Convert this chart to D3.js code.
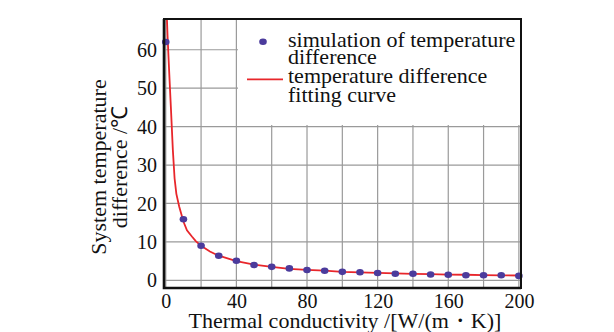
<!DOCTYPE html>
<html>
<head>
<meta charset="utf-8">
<script src="https://cdn.jsdelivr.net/npm/d3@7"></script>
<style>
  html, body { margin: 0; padding: 0; background: #fff; }
  svg { display: block; }
  text { font-family: "Liberation Serif", "Times New Roman", serif; fill: #111; }
</style>
</head>
<body>
<svg id="chart" width="614" height="332"></svg>
<script>
// ---- data ----
const simX = [0, 10, 20, 30, 40, 50, 60, 70, 80, 90, 100, 110, 120, 130, 140, 150, 160, 170, 180, 190, 200];
const simY = [62, 15.9, 9.0, 6.4, 5.1, 4.0, 3.5, 3.1, 2.7, 2.5, 2.2, 2.1, 1.9, 1.7, 1.7, 1.5, 1.45, 1.3, 1.3, 1.3, 1.15];
const fitX = [0.5, 1, 2, 3, 4, 5, 6, 7.6, 10, 12, 14.8, 17, 20, 25, 30, 40, 50, 60, 70, 80, 90, 100, 110, 120, 130, 140, 150, 160, 170, 180, 190, 200];
const fitY = [70, 63.7, 53.6, 44, 34, 26.5, 22.5, 19.2, 15.3, 13.0, 11.4, 10.2, 9.0, 7.5, 6.4, 5.0, 4.1, 3.5, 3.0, 2.7, 2.5, 2.2, 2.05, 1.95, 1.8, 1.7, 1.6, 1.5, 1.45, 1.35, 1.3, 1.25];
const xTicks = [0, 40, 80, 120, 160, 200];
const xGrid = [0, 20, 40, 60, 80, 100, 120, 140, 160, 180, 200];
const yTicks = [0, 10, 20, 30, 40, 50, 60];
const legendLabels = [["simulation of temperature", "difference"], ["temperature difference", "fitting curve"]];
const xTitle = "Thermal conductivity /[W/(m\u30FBK)]";
const yTitle = ["System temperature", "difference /\u2103"];

// ---- layout ----
const L = 164, R = 521, T = 19, B = 288;
const FONT = "Liberation Serif, Times New Roman, serif";
const svg = d3.select("#chart");
const x = d3.scaleLinear().domain([-1, 201.2]).range([L, R]);
const y = d3.scaleLinear().domain([-2, 68]).range([B, T]);

svg.append("rect").attr("width", 614).attr("height", 332).attr("fill", "#fff");

// grid
const grid = svg.append("g");
grid.selectAll("line.v").data(xGrid).join("line")
  .attr("x1", d => x(d)).attr("x2", d => x(d)).attr("y1", T).attr("y2", B)
  .attr("stroke", "#9a9a9a").attr("stroke-width", 1.2);
grid.selectAll("line.h").data(yTicks).join("line")
  .attr("y1", d => y(d)).attr("y2", d => y(d)).attr("x1", L).attr("x2", R)
  .attr("stroke", "#9a9a9a").attr("stroke-width", 1.2);

// clip
svg.append("clipPath").attr("id", "clip").append("rect")
  .attr("x", L).attr("y", T).attr("width", R - L).attr("height", B - T);

// legend background (covers grid)
svg.append("rect").attr("x", 238).attr("y", T + 1).attr("width", R - 238).attr("height", 124 - T)
  .attr("fill", "#fff");

// fit curve
const line = d3.line().x((d, i) => x(fitX[i])).y((d, i) => y(fitY[i]));
svg.append("path").datum(fitY).attr("d", line)
  .attr("clip-path", "url(#clip)")
  .attr("fill", "none").attr("stroke", "#e8262b").attr("stroke-width", 1.8);

// sim dots
svg.selectAll("ellipse.dot").data(simY).join("ellipse")
  .attr("cx", (d, i) => x(simX[i])).attr("cy", d => y(d))
  .attr("rx", 3.8).attr("ry", 3.3).attr("fill", "#4b3b9c");

// frame
svg.append("rect").attr("x", L).attr("y", T).attr("width", R - L).attr("height", B - T)
  .attr("fill", "none").attr("stroke", "#111").attr("stroke-width", 2);
svg.append("path").attr("d", `M${L},${T}V${B}H${R}`)
  .attr("fill", "none").attr("stroke", "#111").attr("stroke-width", 2.6);

// axes labels
const xAxis = d3.axisBottom(x).tickValues(xTicks).tickSize(0).tickPadding(0);
const gx = svg.append("g").attr("transform", `translate(0,${B})`).call(xAxis)
  .attr("font-family", FONT).attr("font-size", 20);
gx.select(".domain").remove();
gx.selectAll("text").attr("y", 20).attr("dy", 0)
  .style("font-family", FONT).style("font-size", "20px").attr("fill", "#111");

const yAxis = d3.axisLeft(y).tickValues(yTicks).tickSize(0).tickPadding(0);
const gy = svg.append("g").attr("transform", `translate(${157},0)`).call(yAxis)
  .attr("font-family", FONT).attr("font-size", 20);
gy.select(".domain").remove();
gy.selectAll("text").attr("x", 0).attr("dy", "0.33em")
  .style("font-family", FONT).style("font-size", "20px").attr("fill", "#111");

// titles
svg.append("text").attr("x", 345).attr("y", 328).attr("text-anchor", "middle")
  .style("font-size", "22px").text(xTitle);
const yt = svg.append("g").attr("transform", "translate(0,167) rotate(-90)");
yTitle.forEach((t, i) => {
  yt.append("text").attr("x", 0).attr("y", 105.5 + i * 21).attr("text-anchor", "middle")
    .style("font-size", "22px").text(t);
});

// legend
const lg = svg.append("g");
lg.append("ellipse").attr("cx", 263).attr("cy", 41.7).attr("rx", 3.8).attr("ry", 3.3).attr("fill", "#4b3b9c");
lg.append("line").attr("x1", 247).attr("x2", 283).attr("y1", 79.3).attr("y2", 79.3)
  .attr("stroke", "#e8262b").attr("stroke-width", 1.8);
const baselines = [[46.7, 64], [83.3, 101.7]];
legendLabels.forEach((lines, i) => {
  lines.forEach((t, j) => {
    lg.append("text").attr("x", 288).attr("y", baselines[i][j]).style("font-size", "22px").text(t);
  });
});
</script>
</body>
</html>
